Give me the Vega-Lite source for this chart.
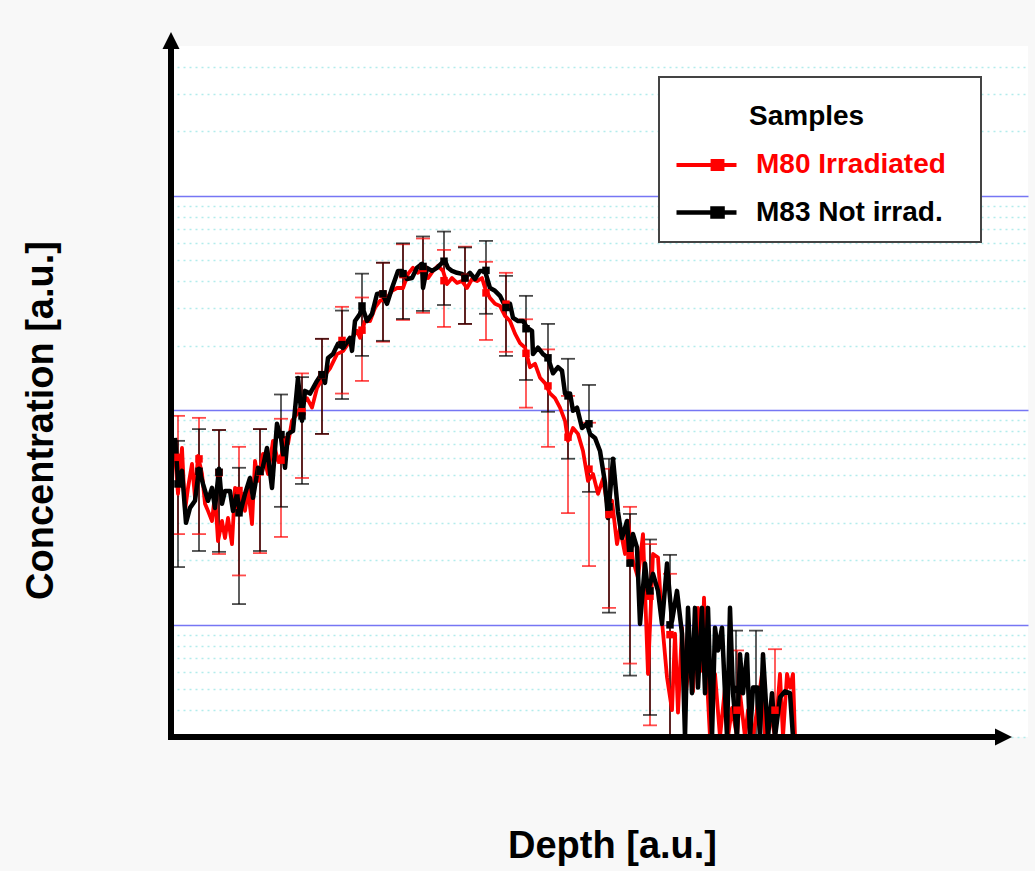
{
  "$schema": "https://vega.github.io/schema/vega-lite/v6.json",
  "width": 857,
  "height": 691,
  "autosize": {"type": "none"},
  "padding": {"left": 171, "top": 46, "right": 7, "bottom": 134},
  "background": "#f8f8f8",
  "config": {"view": {"stroke": null, "fill": "#ffffff"}},
  "datasets": {
    "lines": [
      {"s":"M80 Irradiated","x":4,"v":62.7},{"s":"M80 Irradiated","x":7,"v":40.8},{"s":"M80 Irradiated","x":11,"v":66.8},{"s":"M80 Irradiated","x":14,"v":34.0},{"s":"M80 Irradiated","x":17,"v":43.5},{"s":"M80 Irradiated","x":21,"v":56.3},{"s":"M80 Irradiated","x":24,"v":39.1},{"s":"M80 Irradiated","x":27,"v":61.4},{"s":"M80 Irradiated","x":31,"v":50.5},{"s":"M80 Irradiated","x":34,"v":36.7},{"s":"M80 Irradiated","x":37,"v":34.0},{"s":"M80 Irradiated","x":41,"v":30.5},{"s":"M80 Irradiated","x":44,"v":40.8},{"s":"M80 Irradiated","x":47,"v":24.6},{"s":"M80 Irradiated","x":51,"v":30.5},{"s":"M80 Irradiated","x":54,"v":25.4},{"s":"M80 Irradiated","x":57,"v":31.5},{"s":"M80 Irradiated","x":61,"v":23.8},{"s":"M80 Irradiated","x":64,"v":43.5},{"s":"M80 Irradiated","x":67,"v":32.9},{"s":"M80 Irradiated","x":71,"v":40.8},{"s":"M80 Irradiated","x":74,"v":34.0},{"s":"M80 Irradiated","x":77,"v":43.5},{"s":"M80 Irradiated","x":81,"v":29.5},{"s":"M80 Irradiated","x":84,"v":58.2},{"s":"M80 Irradiated","x":87,"v":46.9},{"s":"M80 Irradiated","x":92,"v":62.7},{"s":"M80 Irradiated","x":97,"v":50.5},{"s":"M80 Irradiated","x":102,"v":72.1},{"s":"M80 Irradiated","x":107,"v":58.2},{"s":"M80 Irradiated","x":111,"v":62.7},{"s":"M80 Irradiated","x":114,"v":74.4},{"s":"M80 Irradiated","x":117,"v":69.8},{"s":"M80 Irradiated","x":121,"v":89.4},{"s":"M80 Irradiated","x":126,"v":96.3},{"s":"M80 Irradiated","x":131,"v":107},{"s":"M80 Irradiated","x":136,"v":114},{"s":"M80 Irradiated","x":141,"v":103},{"s":"M80 Irradiated","x":146,"v":127},{"s":"M80 Irradiated","x":152,"v":142},{"s":"M80 Irradiated","x":159,"v":157},{"s":"M80 Irradiated","x":166,"v":183},{"s":"M80 Irradiated","x":172,"v":189},{"s":"M80 Irradiated","x":179,"v":211},{"s":"M80 Irradiated","x":186,"v":235},{"s":"M80 Irradiated","x":189,"v":218},{"s":"M80 Irradiated","x":194,"v":261},{"s":"M80 Irradiated","x":199,"v":261},{"s":"M80 Irradiated","x":204,"v":301},{"s":"M80 Irradiated","x":209,"v":324},{"s":"M80 Irradiated","x":216,"v":334},{"s":"M80 Irradiated","x":221,"v":361},{"s":"M80 Irradiated","x":226,"v":372},{"s":"M80 Irradiated","x":232,"v":372},{"s":"M80 Irradiated","x":237,"v":433},{"s":"M80 Irradiated","x":242,"v":462},{"s":"M80 Irradiated","x":247,"v":438},{"s":"M80 Irradiated","x":252,"v":457},{"s":"M80 Irradiated","x":257,"v":414},{"s":"M80 Irradiated","x":262,"v":447},{"s":"M80 Irradiated","x":267,"v":472},{"s":"M80 Irradiated","x":272,"v":447},{"s":"M80 Irradiated","x":276,"v":388},{"s":"M80 Irradiated","x":281,"v":414},{"s":"M80 Irradiated","x":286,"v":393},{"s":"M80 Irradiated","x":291,"v":401},{"s":"M80 Irradiated","x":296,"v":372},{"s":"M80 Irradiated","x":301,"v":410},{"s":"M80 Irradiated","x":306,"v":401},{"s":"M80 Irradiated","x":311,"v":414},{"s":"M80 Irradiated","x":314,"v":372},{"s":"M80 Irradiated","x":319,"v":334},{"s":"M80 Irradiated","x":324,"v":314},{"s":"M80 Irradiated","x":329,"v":307},{"s":"M80 Irradiated","x":334,"v":276},{"s":"M80 Irradiated","x":339,"v":261},{"s":"M80 Irradiated","x":344,"v":228},{"s":"M80 Irradiated","x":349,"v":206},{"s":"M80 Irradiated","x":354,"v":196},{"s":"M80 Irradiated","x":359,"v":159},{"s":"M80 Irradiated","x":364,"v":165},{"s":"M80 Irradiated","x":369,"v":142},{"s":"M80 Irradiated","x":374,"v":134},{"s":"M80 Irradiated","x":379,"v":120},{"s":"M80 Irradiated","x":384,"v":114},{"s":"M80 Irradiated","x":389,"v":103},{"s":"M80 Irradiated","x":394,"v":89.4},{"s":"M80 Irradiated","x":397,"v":72.1},{"s":"M80 Irradiated","x":402,"v":82.8},{"s":"M80 Irradiated","x":407,"v":77.7},{"s":"M80 Irradiated","x":412,"v":64.7},{"s":"M80 Irradiated","x":417,"v":46.9},{"s":"M80 Irradiated","x":422,"v":50.5},{"s":"M80 Irradiated","x":427,"v":40.8},{"s":"M80 Irradiated","x":432,"v":48},{"s":"M80 Irradiated","x":436,"v":36.7},{"s":"M80 Irradiated","x":441,"v":37.9},{"s":"M80 Irradiated","x":446,"v":23.8},{"s":"M80 Irradiated","x":449,"v":28.3},{"s":"M80 Irradiated","x":454,"v":21.4},{"s":"M80 Irradiated","x":457,"v":30.5},{"s":"M80 Irradiated","x":462,"v":19.9},{"s":"M80 Irradiated","x":467,"v":16.6},{"s":"M80 Irradiated","x":472,"v":26.5},{"s":"M80 Irradiated","x":477,"v":5.9},{"s":"M80 Irradiated","x":482,"v":21.4},{"s":"M80 Irradiated","x":487,"v":20.6},{"s":"M80 Irradiated","x":491,"v":10.4},{"s":"M80 Irradiated","x":496,"v":5.7},{"s":"M80 Irradiated","x":501,"v":4.0},{"s":"M80 Irradiated","x":504,"v":9.1},{"s":"M80 Irradiated","x":507,"v":3.9},{"s":"M80 Irradiated","x":511,"v":9.7},{"s":"M80 Irradiated","x":514,"v":4.4},{"s":"M80 Irradiated","x":519,"v":7.3},{"s":"M80 Irradiated","x":522,"v":4.9},{"s":"M80 Irradiated","x":527,"v":12.0},{"s":"M80 Irradiated","x":531,"v":6.1},{"s":"M80 Irradiated","x":533,"v":13.4},{"s":"M80 Irradiated","x":536,"v":5.5},{"s":"M80 Irradiated","x":539,"v":3},{"s":"M80 Irradiated","x":544,"v":5.9},{"s":"M80 Irradiated","x":549,"v":3},{"s":"M80 Irradiated","x":554,"v":5.1},{"s":"M80 Irradiated","x":557,"v":3},{"s":"M80 Irradiated","x":561,"v":4.1},{"s":"M80 Irradiated","x":566,"v":3},{"s":"M80 Irradiated","x":569,"v":4.8},{"s":"M80 Irradiated","x":574,"v":3},{"s":"M80 Irradiated","x":577,"v":4.0},{"s":"M80 Irradiated","x":582,"v":3},{"s":"M80 Irradiated","x":586,"v":4.0},{"s":"M80 Irradiated","x":591,"v":5.9},{"s":"M80 Irradiated","x":594,"v":3},{"s":"M80 Irradiated","x":599,"v":4.0},{"s":"M80 Irradiated","x":604,"v":3},{"s":"M80 Irradiated","x":609,"v":5.9},{"s":"M80 Irradiated","x":612,"v":3},{"s":"M80 Irradiated","x":616,"v":5.9},{"s":"M80 Irradiated","x":619,"v":5.1},{"s":"M80 Irradiated","x":622,"v":5.9},{"s":"M80 Irradiated","x":624,"v":3},
      {"s":"M83 Not irrad.","x":4,"v":74.4},{"s":"M83 Not irrad.","x":7,"v":46.9},{"s":"M83 Not irrad.","x":11,"v":52.2},{"s":"M83 Not irrad.","x":15,"v":29.9},{"s":"M83 Not irrad.","x":19,"v":35.1},{"s":"M83 Not irrad.","x":24,"v":37.9},{"s":"M83 Not irrad.","x":28,"v":53.4},{"s":"M83 Not irrad.","x":32,"v":45.4},{"s":"M83 Not irrad.","x":37,"v":37.9},{"s":"M83 Not irrad.","x":41,"v":43.5},{"s":"M83 Not irrad.","x":44,"v":35.1},{"s":"M83 Not irrad.","x":48,"v":53.4},{"s":"M83 Not irrad.","x":51,"v":36.7},{"s":"M83 Not irrad.","x":54,"v":42.1},{"s":"M83 Not irrad.","x":59,"v":42.1},{"s":"M83 Not irrad.","x":62,"v":34.0},{"s":"M83 Not irrad.","x":66,"v":40.8},{"s":"M83 Not irrad.","x":69,"v":32.9},{"s":"M83 Not irrad.","x":74,"v":40.8},{"s":"M83 Not irrad.","x":79,"v":48.4},{"s":"M83 Not irrad.","x":82,"v":39.1},{"s":"M83 Not irrad.","x":87,"v":54.0},{"s":"M83 Not irrad.","x":91,"v":52.2},{"s":"M83 Not irrad.","x":96,"v":66.8},{"s":"M83 Not irrad.","x":101,"v":43.5},{"s":"M83 Not irrad.","x":106,"v":86.6},{"s":"M83 Not irrad.","x":110,"v":74.4},{"s":"M83 Not irrad.","x":114,"v":54.0},{"s":"M83 Not irrad.","x":117,"v":77.7},{"s":"M83 Not irrad.","x":122,"v":80.2},{"s":"M83 Not irrad.","x":127,"v":141.7},{"s":"M83 Not irrad.","x":131,"v":89.4},{"s":"M83 Not irrad.","x":134,"v":123.3},{"s":"M83 Not irrad.","x":139,"v":119.8},{"s":"M83 Not irrad.","x":146,"v":137.2},{"s":"M83 Not irrad.","x":151,"v":148.8},{"s":"M83 Not irrad.","x":154,"v":134.4},{"s":"M83 Not irrad.","x":157,"v":175.6},{"s":"M83 Not irrad.","x":162,"v":183.4},{"s":"M83 Not irrad.","x":167,"v":204.3},{"s":"M83 Not irrad.","x":172,"v":195.6},{"s":"M83 Not irrad.","x":179,"v":217.9},{"s":"M83 Not irrad.","x":181,"v":189.4},{"s":"M83 Not irrad.","x":184,"v":261},{"s":"M83 Not irrad.","x":189,"v":281.7},{"s":"M83 Not irrad.","x":191,"v":307},{"s":"M83 Not irrad.","x":196,"v":261},{"s":"M83 Not irrad.","x":201,"v":281.7},{"s":"M83 Not irrad.","x":206,"v":349},{"s":"M83 Not irrad.","x":211,"v":353},{"s":"M83 Not irrad.","x":216,"v":314},{"s":"M83 Not irrad.","x":221,"v":372},{"s":"M83 Not irrad.","x":227,"v":447},{"s":"M83 Not irrad.","x":231,"v":447},{"s":"M83 Not irrad.","x":236,"v":410},{"s":"M83 Not irrad.","x":241,"v":414},{"s":"M83 Not irrad.","x":246,"v":462},{"s":"M83 Not irrad.","x":251,"v":482},{"s":"M83 Not irrad.","x":252,"v":372},{"s":"M83 Not irrad.","x":256,"v":462},{"s":"M83 Not irrad.","x":261,"v":447},{"s":"M83 Not irrad.","x":266,"v":462},{"s":"M83 Not irrad.","x":271,"v":487},{"s":"M83 Not irrad.","x":274,"v":498},{"s":"M83 Not irrad.","x":277,"v":462},{"s":"M83 Not irrad.","x":281,"v":447},{"s":"M83 Not irrad.","x":286,"v":438},{"s":"M83 Not irrad.","x":291,"v":433},{"s":"M83 Not irrad.","x":294,"v":414},{"s":"M83 Not irrad.","x":299,"v":438},{"s":"M83 Not irrad.","x":304,"v":410},{"s":"M83 Not irrad.","x":309,"v":447},{"s":"M83 Not irrad.","x":314,"v":447},{"s":"M83 Not irrad.","x":319,"v":372},{"s":"M83 Not irrad.","x":324,"v":361},{"s":"M83 Not irrad.","x":329,"v":342},{"s":"M83 Not irrad.","x":334,"v":307},{"s":"M83 Not irrad.","x":339,"v":314},{"s":"M83 Not irrad.","x":342,"v":270},{"s":"M83 Not irrad.","x":347,"v":261},{"s":"M83 Not irrad.","x":352,"v":261},{"s":"M83 Not irrad.","x":356,"v":243},{"s":"M83 Not irrad.","x":361,"v":235},{"s":"M83 Not irrad.","x":362,"v":183},{"s":"M83 Not irrad.","x":367,"v":196},{"s":"M83 Not irrad.","x":372,"v":183},{"s":"M83 Not irrad.","x":377,"v":176},{"s":"M83 Not irrad.","x":382,"v":149},{"s":"M83 Not irrad.","x":387,"v":159},{"s":"M83 Not irrad.","x":391,"v":153},{"s":"M83 Not irrad.","x":394,"v":120},{"s":"M83 Not irrad.","x":399,"v":120},{"s":"M83 Not irrad.","x":402,"v":99.5},{"s":"M83 Not irrad.","x":406,"v":103},{"s":"M83 Not irrad.","x":411,"v":82.8},{"s":"M83 Not irrad.","x":416,"v":86.6},{"s":"M83 Not irrad.","x":419,"v":77.7},{"s":"M83 Not irrad.","x":424,"v":74.4},{"s":"M83 Not irrad.","x":429,"v":64.7},{"s":"M83 Not irrad.","x":434,"v":45.9},{"s":"M83 Not irrad.","x":437,"v":31.5},{"s":"M83 Not irrad.","x":442,"v":59.5},{"s":"M83 Not irrad.","x":447,"v":33.6},{"s":"M83 Not irrad.","x":451,"v":25.4},{"s":"M83 Not irrad.","x":456,"v":30.5},{"s":"M83 Not irrad.","x":459,"v":19.3},{"s":"M83 Not irrad.","x":462,"v":26.5},{"s":"M83 Not irrad.","x":466,"v":22.9},{"s":"M83 Not irrad.","x":469,"v":10.1},{"s":"M83 Not irrad.","x":474,"v":19.3},{"s":"M83 Not irrad.","x":477,"v":14.4},{"s":"M83 Not irrad.","x":482,"v":17.3},{"s":"M83 Not irrad.","x":487,"v":14.4},{"s":"M83 Not irrad.","x":491,"v":10.1},{"s":"M83 Not irrad.","x":496,"v":19.3},{"s":"M83 Not irrad.","x":501,"v":10.4},{"s":"M83 Not irrad.","x":506,"v":14.4},{"s":"M83 Not irrad.","x":511,"v":9.1},{"s":"M83 Not irrad.","x":514,"v":3},{"s":"M83 Not irrad.","x":517,"v":12.0},{"s":"M83 Not irrad.","x":521,"v":4.8},{"s":"M83 Not irrad.","x":524,"v":12.0},{"s":"M83 Not irrad.","x":527,"v":5.1},{"s":"M83 Not irrad.","x":531,"v":12.0},{"s":"M83 Not irrad.","x":534,"v":4.8},{"s":"M83 Not irrad.","x":537,"v":12.0},{"s":"M83 Not irrad.","x":541,"v":3},{"s":"M83 Not irrad.","x":544,"v":9.7},{"s":"M83 Not irrad.","x":547,"v":7.6},{"s":"M83 Not irrad.","x":551,"v":9.7},{"s":"M83 Not irrad.","x":556,"v":3},{"s":"M83 Not irrad.","x":559,"v":12.0},{"s":"M83 Not irrad.","x":562,"v":4.8},{"s":"M83 Not irrad.","x":566,"v":3},{"s":"M83 Not irrad.","x":569,"v":7.3},{"s":"M83 Not irrad.","x":572,"v":4.8},{"s":"M83 Not irrad.","x":576,"v":7.3},{"s":"M83 Not irrad.","x":579,"v":3},{"s":"M83 Not irrad.","x":582,"v":5.1},{"s":"M83 Not irrad.","x":586,"v":5.1},{"s":"M83 Not irrad.","x":589,"v":3},{"s":"M83 Not irrad.","x":592,"v":7.3},{"s":"M83 Not irrad.","x":597,"v":3},{"s":"M83 Not irrad.","x":601,"v":4.8},{"s":"M83 Not irrad.","x":604,"v":3},{"s":"M83 Not irrad.","x":609,"v":4.6},{"s":"M83 Not irrad.","x":614,"v":4.9},{"s":"M83 Not irrad.","x":619,"v":4.8},{"s":"M83 Not irrad.","x":622,"v":3}
    ],
    "bars": [
      {"s":"M80 Irradiated","x":7,"lo":26.5,"hi":94.3,"m":60.4},{"s":"M80 Irradiated","x":28,"lo":26.5,"hi":92.3,"m":59.4},{"s":"M80 Irradiated","x":48,"lo":21.4,"hi":81.0,"m":51.2},{"s":"M80 Irradiated","x":68,"lo":17.0,"hi":67.6,"m":42.3},{"s":"M80 Irradiated","x":89,"lo":21.6,"hi":81.8,"m":51.7},{"s":"M80 Irradiated","x":110,"lo":25.7,"hi":91.4,"m":58.6},{"s":"M80 Irradiated","x":131,"lo":48.4,"hi":148.8,"m":98.6},{"s":"M80 Irradiated","x":151,"lo":77.7,"hi":215.6,"m":146.7},{"s":"M80 Irradiated","x":171,"lo":119.8,"hi":304,"m":211.9},{"s":"M80 Irradiated","x":191,"lo":137.2,"hi":336,"m":236.6},{"s":"M80 Irradiated","x":212,"lo":209,"hi":488,"m":348.5},{"s":"M80 Irradiated","x":232,"lo":264,"hi":595,"m":429.5},{"s":"M80 Irradiated","x":252,"lo":285,"hi":633,"m":459},{"s":"M80 Irradiated","x":273,"lo":245,"hi":560,"m":402.5},{"s":"M80 Irradiated","x":294,"lo":253,"hi":580,"m":416.5},{"s":"M80 Irradiated","x":315,"lo":213,"hi":493,"m":353},{"s":"M80 Irradiated","x":335,"lo":187.5,"hi":438,"m":312.8},{"s":"M80 Irradiated","x":355,"lo":103,"hi":266,"m":184.5},{"s":"M80 Irradiated","x":377,"lo":67.6,"hi":192.5,"m":130},{"s":"M80 Irradiated","x":397,"lo":33.2,"hi":116.8,"m":75},{"s":"M80 Irradiated","x":418,"lo":18.8,"hi":87.6,"m":53.2},{"s":"M80 Irradiated","x":438,"lo":12.0,"hi":53.4,"m":32.7},{"s":"M80 Irradiated","x":459,"lo":6.6,"hi":35.5,"m":21},{"s":"M80 Irradiated","x":479,"lo":3.4,"hi":23.8,"m":13.6},{"s":"M80 Irradiated","x":499,"lo":1,"hi":17.3,"m":9},{"s":"M80 Irradiated","x":566,"lo":1,"hi":7.6,"m":4},{"s":"M80 Irradiated","x":604,"lo":1,"hi":7.7,"m":4},
      {"s":"M83 Not irrad.","x":7,"lo":18.6,"hi":72.1,"m":45.4},{"s":"M83 Not irrad.","x":28,"lo":22.1,"hi":81.8,"m":52.0},{"s":"M83 Not irrad.","x":48,"lo":21.9,"hi":81.0,"m":51.5},{"s":"M83 Not irrad.","x":68,"lo":12.5,"hi":54.0,"m":33.3},{"s":"M83 Not irrad.","x":89,"lo":22.1,"hi":81.8,"m":52.0},{"s":"M83 Not irrad.","x":110,"lo":35.5,"hi":118.6,"m":77.1},{"s":"M83 Not irrad.","x":131,"lo":45.4,"hi":142.9,"m":94.2},{"s":"M83 Not irrad.","x":151,"lo":77.7,"hi":215.6,"m":146.7},{"s":"M83 Not irrad.","x":171,"lo":113,"hi":292,"m":202.5},{"s":"M83 Not irrad.","x":191,"lo":179.5,"hi":434,"m":306.8},{"s":"M83 Not irrad.","x":212,"lo":211,"hi":488,"m":349.5},{"s":"M83 Not irrad.","x":232,"lo":267,"hi":601,"m":434},{"s":"M83 Not irrad.","x":252,"lo":291,"hi":647,"m":469},{"s":"M83 Not irrad.","x":273,"lo":310,"hi":682,"m":496},{"s":"M83 Not irrad.","x":294,"lo":253,"hi":575,"m":414},{"s":"M83 Not irrad.","x":315,"lo":282,"hi":617,"m":449.5},{"s":"M83 Not irrad.","x":335,"lo":179.5,"hi":424,"m":301.8},{"s":"M83 Not irrad.","x":355,"lo":138.6,"hi":342,"m":240.3},{"s":"M83 Not irrad.","x":377,"lo":98.5,"hi":253,"m":175.8},{"s":"M83 Not irrad.","x":397,"lo":59.5,"hi":174,"m":116.8},{"s":"M83 Not irrad.","x":418,"lo":41.7,"hi":131.4,"m":86.6},{"s":"M83 Not irrad.","x":438,"lo":11.4,"hi":59.5,"m":35.5},{"s":"M83 Not irrad.","x":459,"lo":5.8,"hi":32.9,"m":19.4},{"s":"M83 Not irrad.","x":479,"lo":3.8,"hi":25.0,"m":14.4},{"s":"M83 Not irrad.","x":499,"lo":1,"hi":21.2,"m":10},{"s":"M83 Not irrad.","x":565,"lo":1,"hi":9.4,"m":5},{"s":"M83 Not irrad.","x":585,"lo":1,"hi":9.4,"m":5}
    ]
  },
  "layer": [
    {
      "data": {"name": "bars"},
      "mark": {"type": "rule", "strokeWidth": 1.8, "opacity": 0.7, "clip": true},
      "encoding": {
        "x": {"field": "x", "type": "quantitative"},
        "y": {"field": "lo", "type": "quantitative"},
        "y2": {"field": "hi"},
        "color": {"field": "s", "type": "nominal"}
      }
    },
    {
      "data": {"name": "bars"},
      "mark": {"type": "point", "shape": "M-1,0L1,0", "filled": false, "size": 196, "strokeWidth": 1.8, "opacity": 0.7, "clip": true},
      "encoding": {
        "x": {"field": "x", "type": "quantitative"},
        "y": {"field": "hi", "type": "quantitative"},
        "color": {"field": "s", "type": "nominal"}
      }
    },
    {
      "data": {"name": "bars"},
      "mark": {"type": "point", "shape": "M-1,0L1,0", "filled": false, "size": 196, "strokeWidth": 1.8, "opacity": 0.7, "clip": true},
      "encoding": {
        "x": {"field": "x", "type": "quantitative"},
        "y": {"field": "lo", "type": "quantitative"},
        "color": {"field": "s", "type": "nominal"}
      }
    },
    {
      "data": {"name": "lines"},
      "mark": {"type": "line", "strokeJoin": "round"},
      "encoding": {
        "x": {
          "field": "x", "type": "quantitative",
          "scale": {"domain": [0, 857], "nice": false, "zero": false},
          "axis": {"title": "Depth [a.u.]", "domain": false, "ticks": false, "labels": false, "grid": false,
            "titleFont": "Liberation Sans", "titleFontSize": 38, "titleFontWeight": "bold", "titleColor": "#000000",
            "titleX": 441, "titleY": 120, "titleAlign": "center", "titleBaseline": "alphabetic"}
        },
        "y": {
          "field": "v", "type": "quantitative",
          "scale": {"type": "log", "domain": [3, 5000], "nice": false},
          "axis": {"title": "Concentration [a.u.]", "domain": false, "ticks": false, "labels": false, "grid": true,
            "values": [3,4,5,6,7,8,9,10,20,30,40,50,60,70,80,90,100,200,300,400,500,600,700,800,900,1000,2000,3000,4000],
            "gridColor": {"condition": {"test": "datum.value === 10 || datum.value === 100 || datum.value === 1000", "value": "#7676f4"}, "value": "#b2ecec"},
            "gridDash": {"condition": {"test": "datum.value === 10 || datum.value === 100 || datum.value === 1000", "value": []}, "value": [2, 4]},
            "gridWidth": 1.5,
            "titleFont": "Liberation Sans", "titleFontSize": 38, "titleFontWeight": "bold", "titleColor": "#000000",
            "titleX": -119, "titleY": 374, "titleAngle": -90, "titleAlign": "center", "titleBaseline": "alphabetic"}
        },
        "color": {
          "field": "s", "type": "nominal",
          "scale": {"domain": ["M80 Irradiated", "M83 Not irrad."], "range": ["#ff0000", "#000000"]},
          "legend": {
            "title": "Samples", "orient": "none", "legendX": 488, "legendY": 31, "padding": 15,
            "strokeColor": "#444444", "fillColor": "#ffffff", "cornerRadius": 0,
            "titleFont": "Liberation Sans", "titleFontSize": 28, "titleFontWeight": "bold", "titleColor": "#000000", "titlePadding": 28,
            "labelFont": "Liberation Sans", "labelFontSize": 28, "labelFontWeight": "bold", "labelOffset": 47, "labelLimit": 600,
            "rowPadding": 16,
            "symbolType": "M-1,0L3,0M1.4,-0.27L2.07,-0.27L2.07,0.27L1.4,0.27ZM17.7,0",
            "symbolSize": 900, "symbolStrokeWidth": 3, "symbolOpacity": 1,
            "encode": {
              "legend": {"update": {"strokeWidth": {"value": 2}}},
              "title": {"update": {"dx": {"value": 75}, "dy": {"value": 11}}},
              "labels": {"update": {"fill": {"signal": "datum.value === 'M80 Irradiated' ? '#ff0000' : '#000000'"}}},
              "symbols": {"update": {
                "fill": {"signal": "datum.value === 'M80 Irradiated' ? '#ff0000' : '#000000'"},
                "stroke": {"signal": "datum.value === 'M80 Irradiated' ? '#ff0000' : '#000000'"},
                "strokeWidth": {"value": 3}, "opacity": {"value": 1}}}
            }
          }
        },
        "strokeWidth": {"field": "s", "type": "nominal", "scale": {"domain": ["M80 Irradiated", "M83 Not irrad."], "range": [3.8, 4.5]}, "legend": null}
      }
    },
    {
      "data": {"name": "bars"},
      "mark": {"type": "point", "shape": "square", "filled": true, "size": 56, "opacity": 1, "clip": true},
      "encoding": {
        "x": {"field": "x", "type": "quantitative"},
        "y": {"field": "m", "type": "quantitative"},
        "color": {"field": "s", "type": "nominal"}
      }
    },
    {
      "data": {"values": [{}]},
      "mark": {"type": "rule", "color": "#000000", "strokeWidth": 6, "strokeCap": "square"},
      "encoding": {"x": {"datum": 0}, "x2": {"datum": 824}, "y": {"datum": 3}}
    },
    {
      "data": {"values": [{}]},
      "mark": {"type": "rule", "color": "#000000", "strokeWidth": 6, "strokeCap": "square"},
      "encoding": {"x": {"datum": 0}, "y": {"datum": 3}, "y2": {"datum": 5000}}
    },
    {
      "data": {"values": [{}]},
      "mark": {"type": "point", "shape": "M0,-1L2,0L0,1Z", "filled": true, "color": "#000000", "size": 289, "opacity": 1},
      "encoding": {"x": {"datum": 824}, "y": {"datum": 3}}
    },
    {
      "data": {"values": [{}]},
      "mark": {"type": "point", "shape": "M-1,0.35L1,0.35L0,-1.65Z", "filled": true, "color": "#000000", "size": 289, "opacity": 1},
      "encoding": {"x": {"datum": 0}, "y": {"datum": 5000}}
    }
  ]
}
